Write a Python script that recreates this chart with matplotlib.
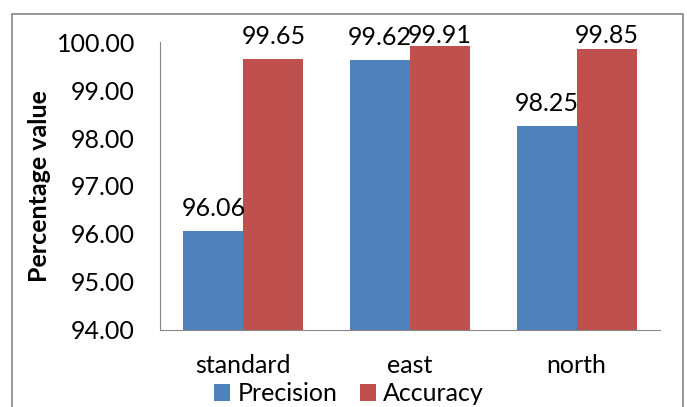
import matplotlib.pyplot as plt
import numpy as np
from matplotlib.patches import Rectangle

categories = ["standard", "east", "north"]
precision = [96.06, 99.62, 98.25]
accuracy = [99.65, 99.91, 99.85]
yticks = [94, 95, 96, 97, 98, 99, 100]

plt.rcParams['font.family'] = ['Lato', 'DejaVu Sans']
fs = 18
label_cap = 99.67  # labels near the top get pushed down inside the chart area

fig = plt.figure(figsize=(6.87, 4.07), dpi=100)
ax = fig.add_axes([0.2329, 0.1892, 0.7278, 0.7076])

x = np.arange(len(categories))
w = 0.36
b1 = ax.bar(x - w / 2, np.array(precision) - 94, w, bottom=94, color="#4F81BD", label="Precision")
b2 = ax.bar(x + w / 2, np.array(accuracy) - 94, w, bottom=94, color="#C0504D", label="Accuracy")

for xs, vals in [(x - w / 2, precision), (x + w / 2, accuracy)]:
    for xi, v in zip(xs, vals):
        ax.annotate("%.2f" % v, (xi, min(v, label_cap)), xytext=(0, 8), textcoords="offset points",
                    ha="center", va="bottom", fontsize=fs, annotation_clip=False)

ax.set_xlim(-0.5, 2.5)
ax.set_ylim(94, 100)
ax.set_yticks(yticks)
ax.set_yticklabels(["%.2f" % t for t in yticks], fontsize=fs)
ax.set_xticks(x)
ax.set_xticklabels(categories, fontsize=fs)
ax.tick_params(length=0)
ax.tick_params(axis="x", pad=17)
ax.tick_params(axis="y", pad=18)
for s in ["top", "right"]:
    ax.spines[s].set_visible(False)
for s in ["left", "bottom"]:
    ax.spines[s].set_color("#868686")
ax.set_ylabel("Percentage value", fontsize=fs, fontweight="bold", labelpad=4)

fig.legend(handles=[b1, b2], loc="center", bbox_to_anchor=(0.508, 0.032), ncol=2,
           frameon=False, fontsize=fs, handlelength=0.65, handleheight=0.65,
           handletextpad=0.28, columnspacing=0.9, borderpad=0)

fig.patches.append(Rectangle((0.0175, -0.1), 0.976, 1.066, transform=fig.transFigure,
                             fill=False, edgecolor="#868686", linewidth=1.2))

fig.savefig("out.png", dpi=100)
